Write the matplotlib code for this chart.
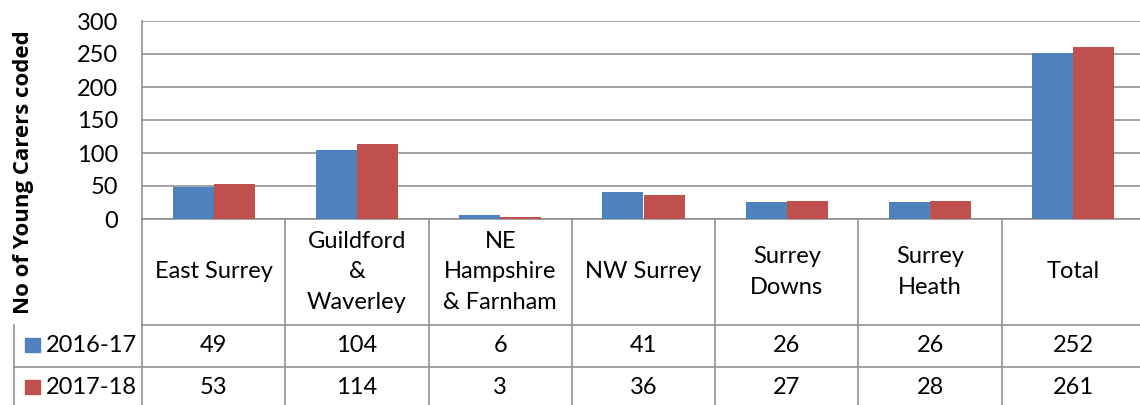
import numpy as np
import matplotlib
matplotlib.use('Agg')
import matplotlib.pyplot as plt
from matplotlib.transforms import blended_transform_factory
from matplotlib.patches import Rectangle

# ------------------- Данные -------------------
categories = ['East Surrey', 'Guildford\n&\nWaverley', 'NE\nHampshire\n& Farnham',
              'NW Surrey', 'Surrey\nDowns', 'Surrey\nHeath', 'Total']
series_names = ['2016-17', '2017-18']
values_1617 = [49, 104, 6, 41, 26, 26, 252]
values_1718 = [53, 114, 3, 36, 27, 28, 261]
y_ticks = [0, 50, 100, 150, 200, 250, 300]

colors = ['#4F81BD', '#C0504D']
grid_col = '#898989'
fs = 17

plt.rcParams['font.family'] = ['Lato', 'DejaVu Sans']

fig = plt.figure(figsize=(11.4, 4.05), dpi=100)
ax = fig.add_axes([142 / 1140, 1 - 219 / 405, 1003 / 1140, 198 / 405])

x = np.arange(len(categories))
w = 0.287
ax.bar(x - w / 2, values_1617, w, color=colors[0], zorder=3)
ax.bar(x + w / 2, values_1718, w, color=colors[1], zorder=3)

ax.set_xlim(-0.5, len(categories) - 0.5)
ax.set_ylim(0, 300)
ax.set_yticks(y_ticks)
ax.set_yticklabels([str(t) for t in y_ticks], fontsize=fs)
ax.tick_params(axis='y', length=0, pad=17)
ax.set_xticks([])
ax.yaxis.grid(True, color=grid_col, linewidth=1.1)
ax.set_axisbelow(True)
for s in ['top', 'right', 'bottom']:
    ax.spines[s].set_visible(False)
ax.spines['left'].set_color(grid_col)
ax.spines['left'].set_linewidth(1.1)

ax.set_ylabel('No of Young Carers coded', fontsize=16, fontweight='bold',
              family=['Open Sans', 'DejaVu Sans'], labelpad=0)
ax.yaxis.set_label_coords(-0.108, 0.237)

# ------------------- Таблица данных -------------------
tr = blended_transform_factory(ax.transData, ax.transAxes)
hdr_bot = -0.535
row_h = 0.212
rows_bot = [hdr_bot - row_h, hdr_bot - 2 * row_h]
leg_left = -1.39

def hline(x0, x1, y):
    ax.plot([x0, x1], [y, y], color=grid_col, lw=1.1, transform=tr, clip_on=False)

def vline(xx, y0, y1):
    ax.plot([xx, xx], [y0, y1], color=grid_col, lw=1.1, transform=tr, clip_on=False)

n = len(categories)
hline(-0.5, n - 0.5, 0)
hline(-0.5, n - 0.5, hdr_bot)
hline(leg_left, n - 0.5, rows_bot[0])
hline(leg_left, n - 0.5, rows_bot[1])
for i in range(n + 1):
    vline(i - 0.5, 0, rows_bot[1])
vline(leg_left, hdr_bot, rows_bot[1])

for i, cat in enumerate(categories):
    ax.text(i, hdr_bot / 2, cat, transform=tr, ha='center', va='center',
            fontsize=fs, linespacing=1.55, clip_on=False)

for r, (name, vals) in enumerate([(series_names[0], values_1617), (series_names[1], values_1718)]):
    yc = hdr_bot - row_h * (r + 0.5)
    for i, v in enumerate(vals):
        ax.text(i, yc, str(v), transform=tr, ha='center', va='center', fontsize=fs, clip_on=False)
    ax.add_patch(Rectangle((leg_left + 0.07, yc - 0.03), 0.105, 0.07, transform=tr,
                           color=colors[r], clip_on=False))
    ax.text(leg_left + 0.22, yc, name, transform=tr, ha='left', va='center',
            fontsize=fs, clip_on=False)

fig.savefig('out.png', dpi=100)
